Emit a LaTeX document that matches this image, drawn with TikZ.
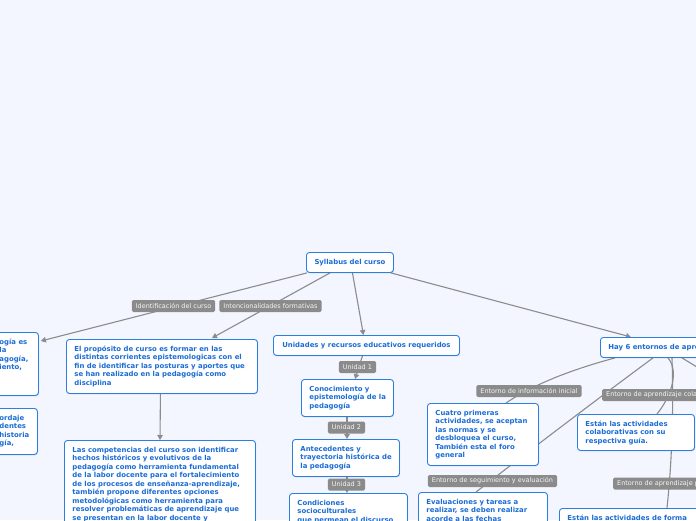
\documentclass[tikz,border=0pt]{standalone}
\usepackage{fontspec}
\setmainfont{DejaVu Sans}
\usetikzlibrary{arrows.meta,calc,shadows}
\definecolor{bgcol}{HTML}{F3F6FE}
\definecolor{boxblue}{HTML}{2B7FE0}
\definecolor{txtblue}{HTML}{1A6CD6}
\definecolor{lblgray}{HTML}{8B8B8B}
\definecolor{lbltxt}{HTML}{F6F6F6}
\definecolor{linegray}{HTML}{8C8C8C}
\pgfdeclarelayer{edgelayer}
\pgfdeclarelayer{labellayer}
\pgfsetlayers{edgelayer,labellayer,main}
\newcommand\bxfont{\fontsize{6.9}{8.5}\selectfont\bfseries}
\newcommand\lbfont{\fontsize{6.5}{7.5}\selectfont}
\newcommand\tbx[3]{\parbox[c][\dimexpr #2pt-13pt\relax][t]{\dimexpr #1pt+4pt\relax}{\raggedright #3}\hspace*{-20pt}}
\begin{document}
\begin{tikzpicture}[x=1pt,y=-1pt,
  box/.style={draw=boxblue, fill=white, rounded corners=3pt, line width=0.9pt,
    text=txtblue, font=\bxfont, inner xsep=8pt, inner ysep=6.5pt, anchor=north west,
    drop shadow={shadow xshift=0.6pt, shadow yshift=-0.9pt, opacity=0.12, fill=black}},
  lbl/.style={fill=lblgray, text=lbltxt, font=\lbfont, rounded corners=1.5pt,
    inner xsep=4pt, inner ysep=0pt, minimum height=12pt},
  conn/.style={draw=linegray, line width=1.1pt},
  conarr/.style={conn, -{Triangle[length=5pt,width=5.5pt]}}]
\useasboundingbox (0,0) rectangle (696,520);
\begin{pgfonlayer}{edgelayer}
\fill[bgcol] (0,0) rectangle (696,520);
\end{pgfonlayer}

% boxes
\node[box, minimum width=87pt, minimum height=20pt] (root) at (306,252) {Syllabus del curso};
\node[box] (L1) at (-9,332) {\tbx{47}{63}{ogía es\\la\\agogía,\\iento,}};
\node[box] (L2) at (-9,408) {\tbx{46}{46}{ordaje\\dentes\\historia\\gía,}};
\node[box] (prop) at (66,339) {\tbx{191}{54}{El propósito de curso es formar en las\\distintas corrientes epistemologicas con el\\fin de identificar las posturas y aportes que\\se han realizado en la pedagogía como\\disciplina}};
\node[box] (comp) at (64,440) {\tbx{191}{120}{Las competencias del curso son identificar\\hechos históricos y evolutivos de la\\pedagogía como herramienta fundamental\\de la labor docente para el fortalecimiento\\de los procesos de enseñanza-aprendizaje,\\también propone diferentes opciones\\metodológicas como herramienta para\\resolver problemáticas de aprendizaje que\\se presentan en la labor docente y}};
\node[box, minimum width=186pt, minimum height=20pt] (unid) at (273,335) {Unidades y recursos educativos requeridos};
\node[box] (cono) at (301,379) {\tbx{92}{37}{Conocimiento y\\epistemología de la\\pedagogía}};
\node[box] (ante) at (292,439) {\tbx{107}{37}{Antecedentes y\\trayectoria histórica de\\la pedagogía}};
\node[box] (cond) at (289,493) {\tbx{118}{60}{Condiciones\\socioculturales\\que permean el discurso}};
\node[box] (hay) at (600,337) {\tbx{160}{20}{Hay 6 entornos de aprendizaje}};
\node[box] (cuatro) at (427,403) {\tbx{111}{62}{Cuatro primeras\\actividades, se aceptan\\las normas y se\\desbloquea el curso,\\También esta el foro\\general}};
\node[box] (eval) at (418,492) {\tbx{129}{80}{Evaluaciones y tareas a\\realizar, se deben realizar\\acorde a las fechas}};
\node[box] (colab) at (577,414) {\tbx{117}{36}{Están las actividades\\colaborativas con su\\respectiva guía.}};
\node[box] (fin) at (559,508) {\tbx{200}{60}{Están las actividades de forma}};
\coordinate (offr) at (710,375);

% labels
\begin{pgfonlayer}{labellayer}
\node[lbl] (lid) at (173.5,306) {Identificación del curso};
\node[lbl] (lint) at (270.5,306) {Intencionalidades formativas};
\node[lbl] (lu1) at (357.5,367) {Unidad 1};
\node[lbl] (lu2) at (346.5,427.5) {Unidad 2};
\node[lbl] (lu3) at (346.5,484.5) {Unidad 3};
\node[lbl] (lei) at (529,391) {Entorno de información inicial};
\node[lbl] (les) at (492.5,481) {Entorno de seguimiento y evaluación};
\node[lbl, anchor=west] (lec) at (602,395) {Entorno de aprendizaje colaborativo};
\node[lbl, anchor=west] (lep) at (613,483.5) {Entorno de aprendizaje práctico};
\end{pgfonlayer}

% connectors
\begin{pgfonlayer}{edgelayer}
\draw[conarr] ($(root.south west)+(1,0)$) -- ($(L1.north east)+(2,9)$);
\draw[conarr] ($(root.south west)+(24,0)$) -- ($(prop.north west)+(146,-1)$);
\draw[conarr] ($(root.south)+(2.5,0)$) -- ($(unid.north)+(-3,0)$);
\draw[conarr] ($(root.south east)+(-3,0)$) -- ($(hay.north west)+(31,0)$);
\draw[conarr] ($(prop.south)+(-1.5,0)$) -- ($(comp.north west)+(96,0)$);
\draw[conarr] ($(unid.south)+(-4,0)$) -- ($(cono.north west)+(54,0)$);
\draw[conarr] ($(cono.south west)+(46,0)$) -- ($(ante.north west)+(55,0)$);
\draw[conarr] ($(ante.south west)+(55,0)$) -- ($(cond.north west)+(58,0)$);
\draw[conn] ($(hay.south west)+(15,0)$) .. controls (585,366) and (540,380) .. ($(cuatro.north west)+(79,0)$);
\draw[conn] ($(hay.south west)+(53,0)$) .. controls (596,400) and (533,448) .. ($(eval.north west)+(58,0)$);
\draw[conn] ($(hay.south west)+(72,0)$) .. controls (674,420) and (671,470) .. ($(fin.north west)+(108,0)$);
\draw[conn] ($(hay.south west)+(68,0)$) .. controls (680,372) and (670,398) .. ($(colab.north west)+(80,0)$);
\draw[conn] ($(hay.south west)+(82,0)$) -- (offr);
\end{pgfonlayer}
\end{tikzpicture}
\end{document}
